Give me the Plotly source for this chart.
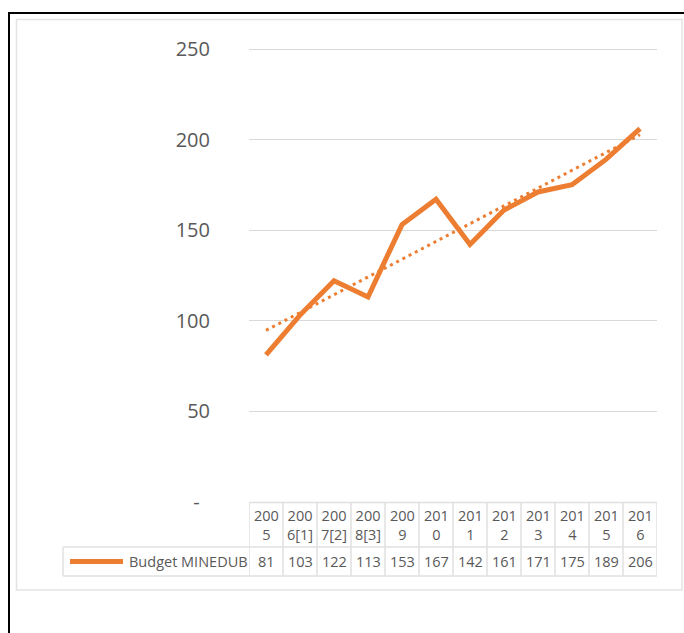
import numpy as np
import plotly.graph_objects as go

# ---- data ----
years = ["2005", "2006[1]", "2007[2]", "2008[3]", "2009", "2010",
         "2011", "2012", "2013", "2014", "2015", "2016"]
budget = [81, 103, 122, 113, 153, 167, 142, 161, 171, 175, 189, 206]
series_name = "Budget MINEDUB"
y_ticks = [0, 50, 100, 150, 200, 250]
y_ticktext = ["-\u00a0\u00a0", "50", "100", "150", "200", "250"]

ORANGE = "#ED7D31"
TXT = "#595959"
GRID = "#d9d9d9"
FONT = "Open Sans"

W, H = 684, 633
def PX(x):
    return x / W
def PY(y):
    return 1 - y / H

idx = list(range(len(years)))
coef = np.polyfit(idx, budget, 1)
trend = [coef[0] * i + coef[1] for i in idx]

fig = go.Figure()
fig.add_trace(go.Scatter(x=idx, y=trend, mode="lines",
                         line=dict(color=ORANGE, width=3, dash="3px,4px"),
                         hoverinfo="skip", showlegend=False))
fig.add_trace(go.Scatter(x=idx, y=budget, mode="lines", name=series_name,
                         line=dict(color=ORANGE, width=5), showlegend=False))

shapes = []
annotations = []

# outer frame (black top/left) and grey chart-area box
shapes.append(dict(type="line", xref="paper", yref="paper", x0=PX(8), x1=PX(684),
                   y0=PY(13), y1=PY(13), line=dict(color="black", width=2)))
shapes.append(dict(type="line", xref="paper", yref="paper", x0=PX(9), x1=PX(9),
                   y0=PY(12), y1=PY(633), line=dict(color="black", width=2)))
shapes.append(dict(type="rect", xref="paper", yref="paper", x0=PX(16.5), x1=PX(682),
                   y0=PY(590), y1=PY(19.5), line=dict(color="#e3e3e3", width=1.5)))

# data table
top, mid, bot = 502.5, 547, 576
n = len(years)
tb = dict(color="#e0e0e0", width=1.5)
for k in range(n + 1):
    shapes.append(dict(type="line", xref="x", yref="paper", x0=k - 0.5, x1=k - 0.5,
                       y0=PY(bot), y1=PY(top), line=tb))
shapes.append(dict(type="line", xref="paper", yref="paper", x0=PX(63), x1=PX(63),
                   y0=PY(bot), y1=PY(mid), line=tb))
shapes.append(dict(type="line", xref="x", yref="paper", x0=-0.5, x1=n - 0.5,
                   y0=PY(top), y1=PY(top), line=tb))
for yy in (mid, bot):
    shapes.append(dict(type="line", xref="paper", yref="paper", x0=PX(63), x1=PX(657),
                       y0=PY(yy), y1=PY(yy), line=tb))

# legend key in table
shapes.append(dict(type="line", xref="paper", yref="paper", x0=PX(70), x1=PX(123),
                   y0=PY(561.5), y1=PY(561.5), line=dict(color=ORANGE, width=5)))
annotations.append(dict(xref="paper", yref="paper", x=PX(127), y=PY(561.5),
                        text=series_name, showarrow=False, xanchor="left", yanchor="middle",
                        font=dict(family=FONT, size=14.5, color=TXT)))

for i, (lab, v) in enumerate(zip(years, budget)):
    annotations.append(dict(xref="x", yref="paper", x=i, y=PY((top + mid) / 2),
                            text=lab[:3] + "<br>" + lab[3:], showarrow=False,
                            xanchor="center", yanchor="middle",
                            font=dict(family=FONT, size=14.5, color=TXT)))
    annotations.append(dict(xref="x", yref="paper", x=i, y=PY(561.5),
                            text=str(v), showarrow=False,
                            xanchor="center", yanchor="middle",
                            font=dict(family=FONT, size=14.5, color=TXT)))

# y scale: 0 at 501.5 px, 250 at 49 px; axis extended slightly so the 250 gridline shows
px_per_unit = (501.5 - 49) / 250
y_top = 254

fig.update_layout(
    width=W, height=H, autosize=False,
    margin=dict(l=0, r=0, t=0, b=0, pad=0),
    paper_bgcolor="white", plot_bgcolor="white",
    font=dict(family=FONT, color=TXT),
    xaxis=dict(domain=[PX(249), PX(657)], range=[-0.5, n - 0.5],
               showgrid=False, zeroline=False, showticklabels=False,
               showline=False, fixedrange=True, automargin=False),
    yaxis=dict(domain=[PY(501.5), PY(501.5 - y_top * px_per_unit)], range=[0, y_top],
               tickvals=y_ticks, ticktext=y_ticktext,
               tickfont=dict(family=FONT, size=20, color=TXT),
               ticklabelstandoff=38, automargin=False,
               showgrid=True, gridcolor=GRID, gridwidth=1,
               zeroline=False, showline=False, fixedrange=True),
    shapes=shapes,
    annotations=annotations,
    showlegend=False,
)

fig.write_html("out.html", config={"responsive": False, "displayModeBar": False},
               post_script="document.body.style.margin='0';document.body.style.overflow='hidden';")
